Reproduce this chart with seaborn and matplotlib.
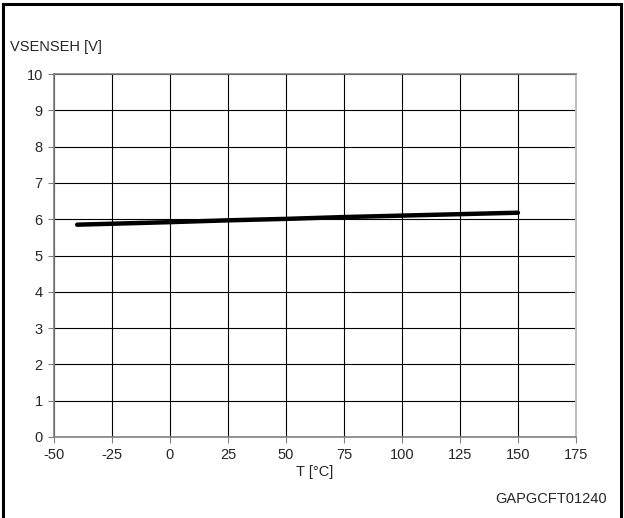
import pandas as pd
import matplotlib.pyplot as plt
import seaborn as sns
from matplotlib.patches import Rectangle

# data
temperature = [-40, 0, 25, 50, 75, 100, 125, 150]
vsenseh = [5.85, 5.92, 5.97, 6.01, 6.06, 6.10, 6.14, 6.18]
x_ticks = [-50, -25, 0, 25, 50, 75, 100, 125, 150, 175]
y_ticks = [0, 1, 2, 3, 4, 5, 6, 7, 8, 9, 10]

df = pd.DataFrame({"T": temperature, "V": vsenseh})

sns.set_style("white")
plt.rcParams['font.family'] = ['Liberation Sans', 'DejaVu Sans']

fig = plt.figure(figsize=(6.24, 5.18), dpi=100)
ax = fig.add_axes([0.0865, 0.1564, 0.8365, 0.7006])

sns.lineplot(data=df, x="T", y="V", ax=ax, color="black", linewidth=3.2)

fs = 10.5
ax.set_xlim(-50, 175)
ax.set_ylim(0, 10)
ax.set_xticks(x_ticks)
ax.set_yticks(y_ticks)
ax.set_xticklabels([str(t) for t in x_ticks], fontsize=fs)
ax.set_yticklabels([str(t) for t in y_ticks], fontsize=fs)
ax.grid(True, color="black", linewidth=0.8)
ax.set_axisbelow(True)

ax.set_xlabel("T [°C]", fontsize=fs, labelpad=2)
ax.set_ylabel("")

for side in ["left", "top", "bottom"]:
    ax.spines[side].set_color("#808080")
    ax.spines[side].set_linewidth(1.2)
ax.spines["right"].set_color("#c0c0c0")
ax.spines["right"].set_linewidth(1.5)

ax.tick_params(axis="both", direction="out", length=4, width=0.8,
               color="#808080", pad=4, left=True, bottom=True)

fig.text(0.016, 0.909, "VSENSEH [V]", fontsize=fs, va="center", ha="left")
fig.text(0.972, 0.036, "GAPGCFT01240", fontsize=fs, va="center", ha="right")

# frame around the whole figure
fig.patches.append(Rectangle((0.005, -0.05), 0.99, 1.043, transform=fig.transFigure,
                             fill=False, edgecolor="black", linewidth=2.2))

fig.savefig("out.png", dpi=100)
